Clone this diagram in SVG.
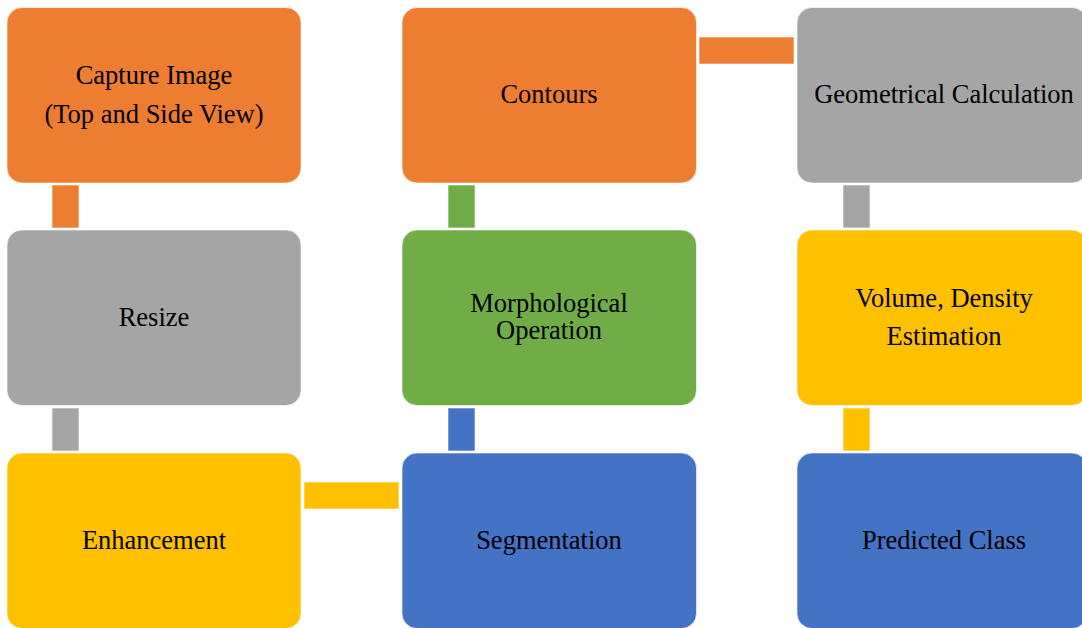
<svg xmlns="http://www.w3.org/2000/svg" width="1082" height="628" viewBox="0 0 1082 628">
<style>
.box{stroke:#ffffff;stroke-opacity:0.6;stroke-width:1}
.con{stroke:#ffffff;stroke-opacity:0.6;stroke-width:1}
.lbl{font-family:"Liberation Serif","Times New Roman",serif;font-size:26.5px;fill:#000;text-anchor:middle}
.orange{fill:#ED7D31}.gray{fill:#A5A5A5}.yellow{fill:#FFC000}.green{fill:#70AD47}.blue{fill:#4472C4}
</style>
<rect width="1082" height="628" fill="#ffffff"/>
<g id="connectors">
<rect class="con orange" x="52" y="185" width="27" height="43"/>
<rect class="con gray" x="52" y="408" width="27" height="43"/>
<rect class="con yellow" x="304" y="482" width="95" height="27"/>
<rect class="con blue" x="448" y="408" width="27" height="43"/>
<rect class="con green" x="448" y="185" width="27" height="43"/>
<rect class="con orange" x="699" y="37" width="95" height="27"/>
<rect class="con gray" x="843" y="185" width="27" height="43"/>
<rect class="con yellow" x="843" y="408" width="27" height="43"/>
</g>
<g id="node-capture">
<rect class="box orange" x="7" y="7.5" width="294" height="175.5" rx="15"/>
<text class="lbl" x="154" y="84">Capture Image</text>
<text class="lbl" x="154" y="123">(Top and Side View)</text>
</g>
<g id="node-resize">
<rect class="box gray" x="7" y="230" width="294" height="175.5" rx="15"/>
<text class="lbl" x="154" y="326">Resize</text>
</g>
<g id="node-enhancement">
<rect class="box yellow" x="7" y="453" width="294" height="175.5" rx="15"/>
<text class="lbl" x="154" y="548.5">Enhancement</text>
</g>
<g id="node-segmentation">
<rect class="box blue" x="402" y="453" width="294.5" height="175.5" rx="15"/>
<text class="lbl" x="549" y="548.5">Segmentation</text>
</g>
<g id="node-morphological">
<rect class="box green" x="402" y="230" width="294.5" height="175.5" rx="15"/>
<text class="lbl" x="549" y="311.5">Morphological</text>
<text class="lbl" x="549" y="339">Operation</text>
</g>
<g id="node-contours">
<rect class="box orange" x="402" y="7.5" width="294.5" height="175.5" rx="15"/>
<text class="lbl" x="549" y="103">Contours</text>
</g>
<g id="node-geometrical">
<rect class="box gray" x="797" y="7.5" width="290" height="175.5" rx="15"/>
<text class="lbl" x="944" y="103">Geometrical Calculation</text>
</g>
<g id="node-volume">
<rect class="box yellow" x="797" y="230" width="290" height="175.5" rx="15"/>
<text class="lbl" x="944" y="307">Volume, Density</text>
<text class="lbl" x="944" y="345">Estimation</text>
</g>
<g id="node-predicted">
<rect class="box blue" x="797" y="453" width="290" height="175.5" rx="15"/>
<text class="lbl" x="944" y="548.5">Predicted Class</text>
</g>
</svg>
